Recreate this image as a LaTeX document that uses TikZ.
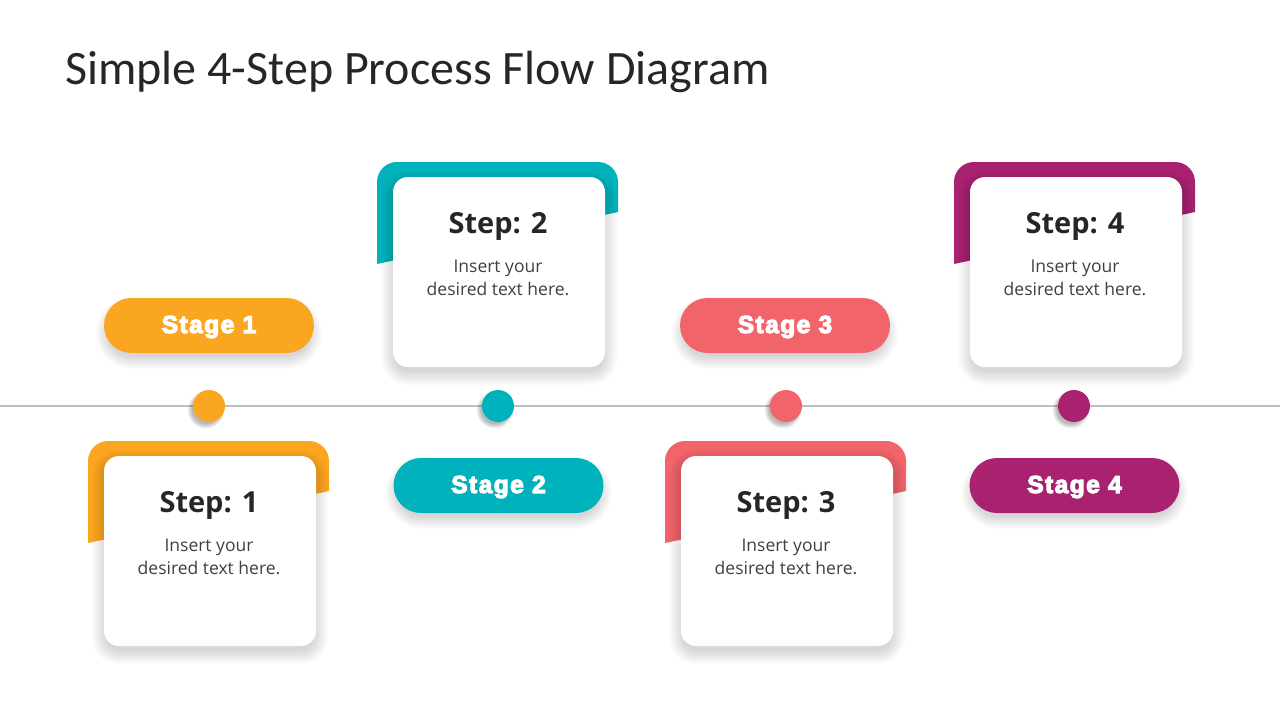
\documentclass[tikz,border=0pt]{standalone}
\usepackage{fontspec}
\setmainfont{Open Sans}
\newfontfamily\titlefont{Carlito}
\newfontfamily\stagefont{Liberation Sans}[BoldFeatures={FakeBold=4.5, LetterSpace=6}]
\definecolor{cOrange}{HTML}{FBA621}
\definecolor{cTeal}{HTML}{00B2BB}
\definecolor{cCoral}{HTML}{F0646A}
\definecolor{cMagenta}{HTML}{A82270}
\definecolor{cDark}{HTML}{262626}
\definecolor{cBody}{HTML}{404040}
\definecolor{cLine}{HTML}{BFBFBF}
\tikzset{
  card/.style={fill=white, rounded corners=15pt, minimum width=212pt, minimum height=190pt, inner sep=0pt},
  steptitle/.style={text=cDark, font=\bfseries\fontsize{29}{34}\selectfont, inner sep=0pt},
  stepbody/.style={text=cBody, font=\fontsize{17.5}{23}\selectfont, align=center, inner sep=0pt},
  pill/.style={rounded corners=27.5pt, minimum width=210pt, minimum height=55pt, inner sep=0pt, text=white,
    font=\stagefont\bfseries\fontsize{24.5}{28}\selectfont},
  dot/.style={circle, minimum size=32pt, inner sep=0pt},
  timeline/.style={draw=cLine, line width=2.5pt},
  shadowlayer/.style={fill=black, opacity=0.016},
  maintitle/.style={text=cDark, font=\titlefont\fontsize{48}{54}\selectfont, inner sep=0pt, anchor=base west}
}
% soft shadow: centre x, centre y, width, height, corner radius, spread per layer
\newcommand\softshadow[6]{%
  \foreach \k in {1,...,10}{%
    \pgfmathsetmacro\shW{#3/2+\k*#6}%
    \pgfmathsetmacro\shH{#4/2+\k*#6}%
    \pgfmathsetmacro\shR{#5+\k*#6}%
    \fill[shadowlayer, rounded corners=\shR pt] ({#1-\shW},{#2-\shH}) rectangle ({#1+\shW},{#2+\shH});
  }%
}
\newcommand\drawstep[5]{%
  \fill[#3] ({#2-121},{#4+102}) -- ({#2-121},{#4+20}) arc[start angle=180,end angle=270,radius=20]
     -- ({#2+100},{#4}) arc[start angle=270,end angle=360,radius=20] -- ({#2+120},{#4+50}) -- cycle;
  \softshadow{#2+1}{#4+116}{206}{184}{12}{1.5}
  \node[card] (card#1) at ({#2+1},{#4+110}) {};
  \node[steptitle] (title#1) at ({#2},{#4+64}) {Step: #5};
  \node[stepbody] (body#1) at ({#2},{#4+116}) {Insert your\\desired text here.};
}
\newcommand\drawpill[5]{% id, cx, cy, colour, text
  \softshadow{#2}{#3+7}{200}{46}{23}{1.3}
  \node[pill, fill=#4] (stage#1) at (#2,#3) {};
  \node[text=white, font=\stagefont\bfseries\fontsize{24.5}{28}\selectfont, inner sep=0pt] (stagetext#1) at (#2,{#3+1.5}) {#5};
}
\newcommand\drawdot[3]{% id, cx, colour
  \foreach \k in {1,...,6}{%
    \fill[fill=black, opacity=0.05] ({#2-3},410) circle ({13+\k*0.9});
  }%
  \node[dot, fill=#3] (dot#1) at (#2,406) {};
}
\begin{document}
\begin{tikzpicture}[x=1pt,y=-1pt]
  \useasboundingbox[fill=white] (0,0) rectangle (1280,720);
  \node[maintitle] (title) at (65,84) {Simple 4-Step Process Flow Diagram};
  % timeline
  \coordinate (lineL) at (0,406);
  \coordinate (lineR) at (1280,406);
  \draw[timeline] (lineL) -- (lineR);
  % steps
  \drawstep{1}{209}{cOrange}{441}{1}
  \drawstep{2}{498}{cTeal}{162}{2}
  \drawstep{3}{786}{cCoral}{441}{3}
  \drawstep{4}{1075}{cMagenta}{162}{4}
  % stages
  \drawpill{1}{209}{325.5}{cOrange}{Stage 1}
  \drawpill{2}{498.5}{485.5}{cTeal}{Stage 2}
  \drawpill{3}{785}{325.5}{cCoral}{Stage 3}
  \drawpill{4}{1074.5}{485.5}{cMagenta}{Stage 4}
  % dots
  \drawdot{1}{209}{cOrange}
  \drawdot{2}{498}{cTeal}
  \drawdot{3}{786}{cCoral}
  \drawdot{4}{1074}{cMagenta}
\end{tikzpicture}
\end{document}
